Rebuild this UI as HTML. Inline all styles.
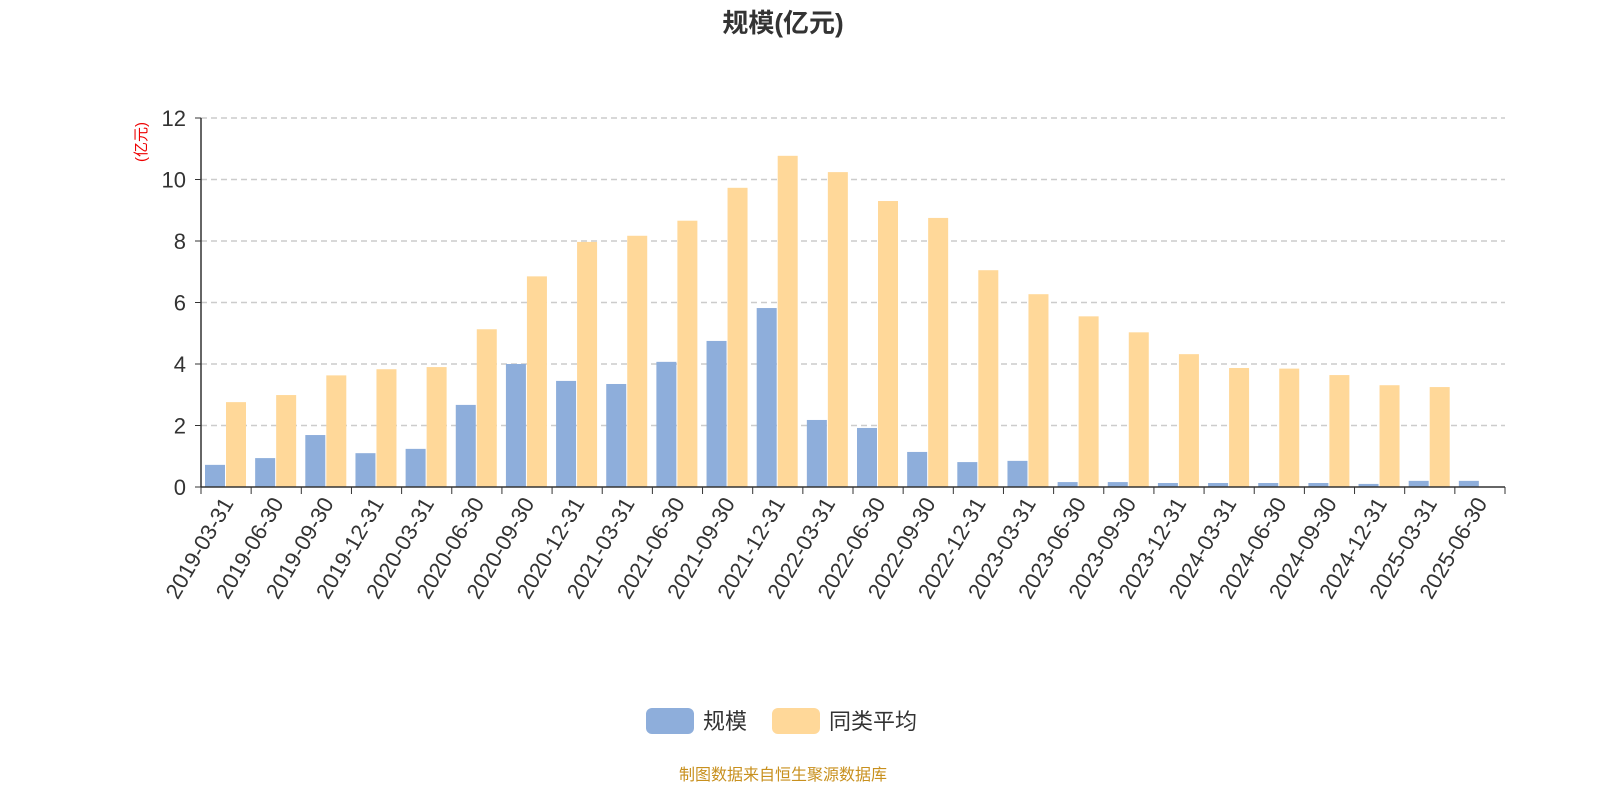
<!DOCTYPE html>
<html><head><meta charset="utf-8"><style>
body{margin:0;background:#fff;width:1600px;height:800px;overflow:hidden;font-family:"Liberation Sans","Noto Sans CJK SC",sans-serif}
</style></head><body>
<svg width="1600" height="800" font-family="Liberation Sans, Noto Sans CJK SC, sans-serif">
<text x="783" y="32" text-anchor="middle" font-size="26" font-weight="bold" fill="#333">规模(亿元)</text>
<text transform="translate(146,142) rotate(-90)" text-anchor="middle" font-size="15" fill="#e00">(亿元)</text>
<g id="grid"></g><g id="bars"></g><g id="axes"></g>
<g>
<g><rect x="646" y="708" width="48" height="26" rx="6" fill="#8eaedb"/><text x="703" y="729" font-size="22" fill="#333">规模</text></g>
<g><rect x="772" y="708" width="48" height="26" rx="6" fill="#ffd899"/><text x="829" y="729" font-size="22" fill="#333">同类平均</text></g>
</g>
<text x="783" y="780" text-anchor="middle" font-size="16" fill="#c8901e">制图数据来自恒生聚源数据库</text>
</svg>
<script>
const categories=["2019-03-31","2019-06-30","2019-09-30","2019-12-31","2020-03-31","2020-06-30","2020-09-30","2020-12-31","2021-03-31","2021-06-30","2021-09-30","2021-12-31","2022-03-31","2022-06-30","2022-09-30","2022-12-31","2023-03-31","2023-06-30","2023-09-30","2023-12-31","2024-03-31","2024-06-30","2024-09-30","2024-12-31","2025-03-31","2025-06-30"];
const scaleValues=[0.72,0.94,1.69,1.1,1.24,2.67,4.0,3.45,3.35,4.07,4.75,5.82,2.18,1.92,1.14,0.81,0.85,0.16,0.16,0.13,0.13,0.13,0.13,0.1,0.2,0.2];
const avgValues=[2.76,2.99,3.63,3.83,3.9,5.13,6.85,7.97,8.17,8.66,9.73,10.77,10.24,9.3,8.75,7.05,6.27,5.55,5.03,4.32,3.87,3.85,3.64,3.31,3.25,null];
const yTicks=[0,2,4,6,8,10,12];
const NS="http://www.w3.org/2000/svg";
const X0=201,X1=1505,Y0=487,Y12=118;
const slot=(X1-X0)/categories.length;
const y=v=>Y0-(v/12)*(Y0-Y12);
const x=i=>X0+i*slot;
function mk(tag,attrs,parent,text){const e=document.createElementNS(NS,tag);for(const k in attrs)e.setAttribute(k,attrs[k]);if(text!=null)e.textContent=text;document.getElementById(parent).appendChild(e);return e;}
yTicks.forEach(t=>{
 if(t>0){const g=mk("line",{x1:X0,x2:X1,y1:y(t),y2:y(t),stroke:"#ccc","stroke-dasharray":"6,4","stroke-width":1.5},"grid");
 
 }
 const l=mk("text",{x:186,y:y(t)+8,"text-anchor":"end","font-size":22,fill:"#333"},"axes",t);
 
 
 mk("line",{x1:X0-6,x2:X0,y1:y(t),y2:y(t),stroke:"#333"},"axes");
});
categories.forEach((c,i)=>{
 const bw=20;
 const b=mk("rect",{x:x(i)+4,y:y(scaleValues[i]),width:bw,height:Y0-y(scaleValues[i]),fill:"#8eaedb"},"bars");
 
 
 if(avgValues[i]!=null){const a=mk("rect",{x:x(i)+25,y:y(avgValues[i]),width:bw,height:Y0-y(avgValues[i]),fill:"#ffd899"},"bars");
 
 }
 mk("line",{x1:x(i),x2:x(i),y1:Y0,y2:Y0+7,stroke:"#333"},"axes");
 const cx=x(i)+slot/2+8;
 const t=mk("text",{x:cx,y:Y0+16,"text-anchor":"end","font-size":22,fill:"#333",transform:`rotate(-60 ${cx} ${Y0+16})`},"axes",c);
 
 
});
mk("line",{x1:X1,x2:X1,y1:Y0,y2:Y0+7,stroke:"#333"},"axes");
const ax=mk("line",{x1:X0,x2:X1,y1:Y0,y2:Y0,stroke:"#333","stroke-width":1.5},"axes");


const ay=mk("line",{x1:X0,x2:X0,y1:Y12,y2:Y0,stroke:"#333","stroke-width":1.5},"axes");


</script>
</body></html>
